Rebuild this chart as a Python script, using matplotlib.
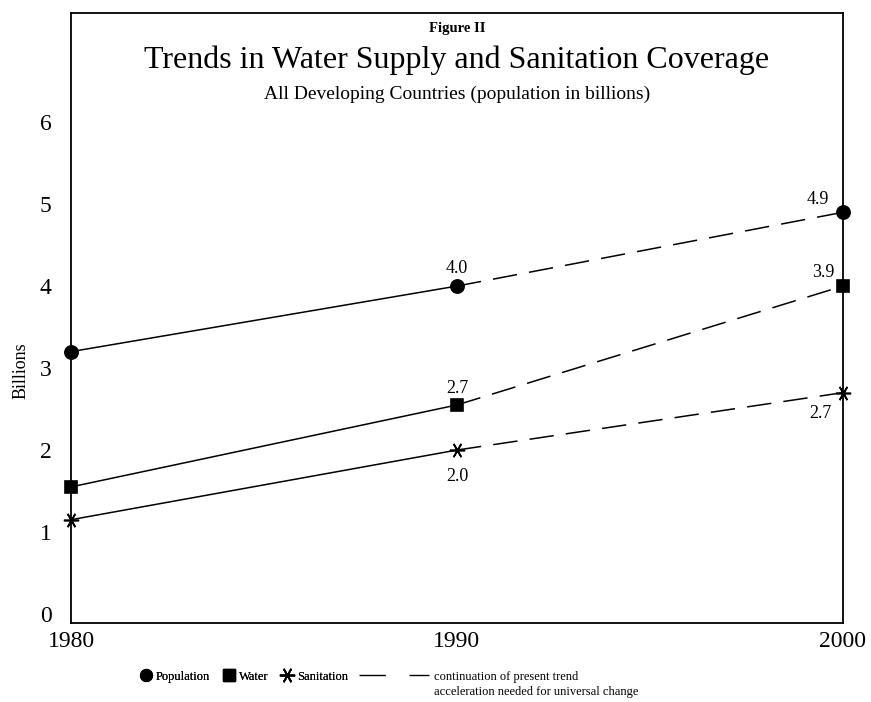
import matplotlib.pyplot as plt
from matplotlib.lines import Line2D

plt.rcParams['font.family'] = ['Liberation Serif', 'DejaVu Serif']

# data (billions)
years = [1980, 1990, 2000]
population = [3.2, 4.0, 4.9]
water = [1.55, 2.55, 4.0]
sanitation = [1.15, 2.0, 2.7]

# printed value labels
pop_labels = ["", "4.0", "4.9"]
water_labels = ["", "2.7", "3.9"]
san_labels = ["", "2.0", "2.7"]

y_ticks = [0, 1, 2, 3, 4, 5, 6]

fig = plt.figure(figsize=(8.71, 7.02), dpi=100)
ax = fig.add_axes([0.0815, 0.1125, 0.8863, 0.8689])

star = (6, 2, 90)
series = [
    (population, 'o', 9.5, pop_labels, [(0, 0), (0, 13), (-18, 9)]),
    (water, 's', 8.5, water_labels, [(0, 0), (0, 12), (-14, 10)]),
    (sanitation, star, 11, san_labels, [(0, 0), (0, -19), (-16, -15)]),
]

for vals, mk, ms, labels, offs in series:
    # solid up to 1990, dashed continuation to 2000
    ax.plot(years[:2], vals[:2], color='black', lw=1.1)
    ax.plot(years[1:], vals[1:], color='black', lw=1.1, dashes=(16, 8))
    ax.plot(years, vals, ls='none', marker=mk, ms=ms, color='black',
            mew=1.2, clip_on=False, zorder=5)
    for x, y, lab, off in zip(years, vals, labels, offs):
        if lab:
            ax.annotate(lab, (x, y), xytext=off, textcoords='offset points',
                        ha='center', va='center', fontsize=13)

ax.set_xlim(1980, 2000)
ax.set_ylim(-0.11, 7.33)
ax.set_xticks(years)
ax.set_yticks(y_ticks)
ax.tick_params(axis='both', length=0, labelsize=17)
ax.tick_params(axis='y', pad=14)
ax.tick_params(axis='x', pad=6)
for s in ax.spines.values():
    s.set_linewidth(1.3)

ax.text(-0.065, 0.413, "Billions", transform=ax.transAxes, rotation=90,
        ha='center', va='center', fontsize=13)

ax.text(0.5, 0.975, "Figure II", transform=ax.transAxes, ha='center',
        va='center', fontsize=10.5, fontweight='bold')
ax.text(0.5, 0.922, "Trends in Water Supply and Sanitation Coverage",
        transform=ax.transAxes, ha='center', va='center', fontsize=23)
ax.text(0.5, 0.866, "All Developing Countries (population in billions)",
        transform=ax.transAxes, ha='center', va='center', fontsize=14)

# legend
handles = [
    Line2D([], [], ls='none', marker='o', ms=8.5, color='black'),
    Line2D([], [], ls='none', marker='s', ms=8, color='black'),
    Line2D([], [], ls='none', marker=star, ms=11, mew=1.2, color='black'),
]
leg1 = fig.legend(handles, ["Population", "Water", "Sanitation"],
                  loc='center left', bbox_to_anchor=(0.161, 0.036), ncol=3,
                  frameon=False, fontsize=9, handlelength=0.9,
                  handletextpad=0.35, columnspacing=1.05, borderpad=0,
                  borderaxespad=0)
dash = Line2D([], [], color='black', lw=1.0, dashes=(19, 17))
leg2 = fig.legend([dash], ["continuation of present trend"],
                  loc='center left', bbox_to_anchor=(0.412, 0.036),
                  frameon=False, fontsize=9, handlelength=5.6,
                  handletextpad=0.4, borderpad=0, borderaxespad=0)
fig.add_artist(leg1)

fig.canvas.draw()
bb = leg2.get_texts()[0].get_window_extent()
x0 = bb.x0 / fig.bbox.width
fig.text(x0, 0.014, "acceleration needed for universal change",
         ha='left', va='center', fontsize=9)

fig.savefig('out.png', dpi=100)
